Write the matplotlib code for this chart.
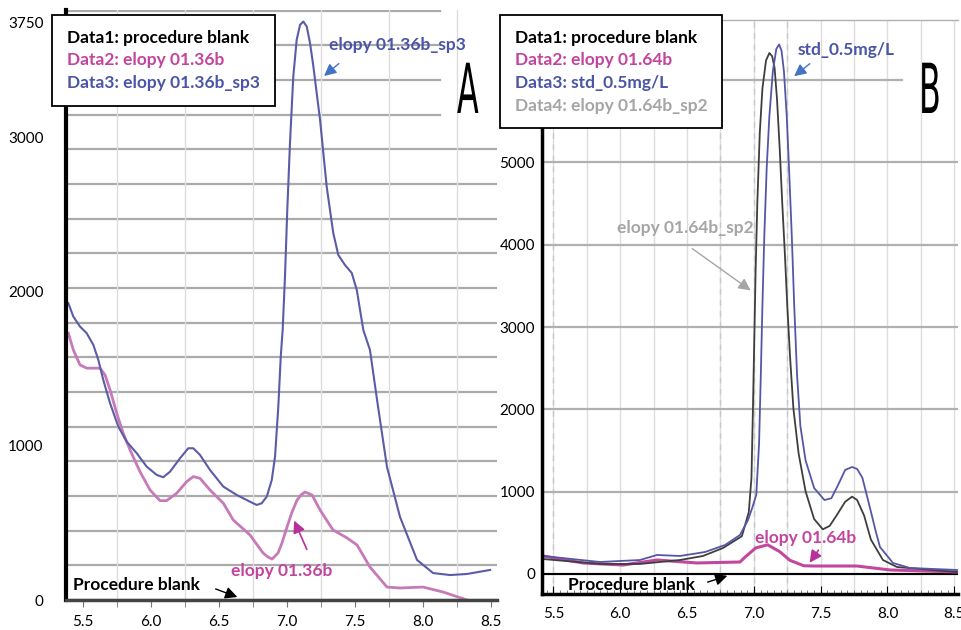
import numpy as np
import matplotlib
matplotlib.use("Agg")
import matplotlib.pyplot as plt
from matplotlib.lines import Line2D
from matplotlib.ticker import MultipleLocator, FixedLocator
from matplotlib.textpath import TextPath
from matplotlib.patches import PathPatch
from matplotlib.font_manager import FontProperties
from matplotlib.transforms import Affine2D

plt.rcParams['font.family'] = ['Lato', 'DejaVu Sans']

# ---------------- panel A data (retention time, intensity) ----------------
a_sp3_x = [5.392, 5.429, 5.478, 5.527, 5.576, 5.613, 5.649, 5.699, 5.760, 5.821,
           5.895, 5.968, 6.042, 6.090, 6.140, 6.213, 6.274, 6.311, 6.360, 6.434,
           6.532, 6.630, 6.728, 6.777, 6.814, 6.851, 6.888, 6.912, 6.936, 6.954,
           6.968, 6.985, 7.002, 7.022, 7.046, 7.071, 7.096, 7.120, 7.145, 7.169,
           7.194, 7.218, 7.243, 7.267, 7.292, 7.316, 7.340, 7.377, 7.426, 7.476,
           7.513, 7.537, 7.561, 7.610, 7.662, 7.735, 7.831, 7.956, 8.074, 8.199,
           8.324, 8.493]
a_sp3_y = [1927, 1840, 1775, 1732, 1656, 1558, 1429, 1277, 1125, 1028,
           953, 866, 812, 797, 833, 920, 985, 985, 942, 844,
           736, 682, 638, 617, 628, 671, 779, 931, 1255, 1580,
           1753, 2097, 2532, 2968, 3396, 3636, 3734, 3755, 3723, 3617,
           3463, 3292, 3117, 2903, 2682, 2532, 2383, 2240, 2175, 2123,
           2013, 1883, 1753, 1623, 1299, 864, 539, 260, 175, 162,
           169, 195]

a_samp_x = [5.392, 5.429, 5.478, 5.527, 5.576, 5.625, 5.662, 5.699, 5.748, 5.796,
            5.846, 5.919, 5.993, 6.066, 6.115, 6.189, 6.262, 6.311, 6.360, 6.434,
            6.532, 6.605, 6.728, 6.824, 6.860, 6.890, 6.934, 6.963, 7.000, 7.037,
            7.074, 7.103, 7.132, 7.184, 7.243, 7.338, 7.441, 7.515, 7.610, 7.735,
            7.831, 8.000, 8.147, 8.324]
a_samp_y = [1732, 1623, 1526, 1505, 1505, 1505, 1461, 1364, 1212, 1082,
            974, 833, 714, 645, 645, 693, 768, 801, 790, 714,
            628, 519, 422, 305, 279, 266, 305, 370, 474, 571,
            649, 682, 701, 682, 584, 455, 403, 357, 214, 84,
            78, 84, 52, 0]

a_blank_x = [5.38, 8.55]
a_blank_y = [0, 0]

a_yticks = [0, 1000, 2000, 3000, 3750]
a_xticks = [5.5, 6.0, 6.5, 7.0, 7.5, 8.0, 8.5]

# ---------------- panel B data ----------------
b_std_x = [5.421, 5.848, 6.147, 6.275, 6.447, 6.634, 6.784, 6.896, 6.956, 6.987,
           7.018, 7.039, 7.052, 7.064, 7.078, 7.096, 7.116, 7.142, 7.168, 7.189,
           7.207, 7.225, 7.246, 7.263, 7.284, 7.302, 7.323, 7.348, 7.387, 7.451,
           7.528, 7.580, 7.632, 7.683, 7.735, 7.773, 7.812, 7.864, 7.915, 7.944,
           8.041, 8.168, 8.520]
b_std_y = [219, 146, 170, 231, 219, 267, 352, 474, 656, 800,
           961, 1589, 2425, 3262, 4100, 4937, 5564, 6108, 6380, 6434,
           6358, 6108, 5564, 4937, 4100, 3262, 2425, 1798, 1380, 1045,
           899, 920, 1087, 1264, 1300, 1276, 1170, 836, 501, 328,
           134, 73, 49]

b_sp2_x = [5.421, 5.848, 6.147, 6.447, 6.619, 6.769, 6.910, 6.962, 6.982, 6.993,
           7.003, 7.013, 7.026, 7.044, 7.064, 7.091, 7.116, 7.137, 7.155, 7.173,
           7.194, 7.212, 7.232, 7.250, 7.271, 7.296, 7.335, 7.387, 7.451, 7.516,
           7.567, 7.619, 7.683, 7.735, 7.773, 7.825, 7.876, 7.966, 8.071, 8.520]
b_sp2_y = [182, 122, 122, 170, 219, 316, 459, 752, 1170, 2007,
           2844, 3682, 4518, 5355, 5899, 6240, 6330, 6290, 6150, 5773,
           5146, 4518, 3891, 3262, 2635, 2007, 1463, 1004, 668, 543,
           584, 711, 877, 940, 899, 711, 418, 170, 85, 24]

b_samp_x = [5.421, 5.721, 6.020, 6.275, 6.574, 6.896, 6.936, 7.013, 7.103, 7.194,
            7.270, 7.374, 7.450, 7.771, 8.019, 8.520]
b_samp_y = [219, 134, 109, 170, 134, 146, 208, 316, 355, 271,
            166, 100, 97, 97, 49, 24]

b_blank_x = [5.41, 8.53]
b_blank_y = [0, 0]

b_yticks = [0, 1000, 2000, 3000, 4000, 5000, 6000]
b_yticklabels = ['0', '1000', '2000', '3000', '4000', '5000', '']
b_xticks = [5.5, 6.0, 6.5, 7.0, 7.5, 8.0, 8.5]

# colours
MAG = '#c2449e'
BLU = '#4b55a8'
GRY = '#a5a5a5'
ARB = '#4472c4'

W, H = 962, 630
fig = plt.figure(figsize=(W / 100, H / 100), dpi=100)


def px_axes(l, r, t, b):
    return fig.add_axes([l / W, 1 - b / H, (r - l) / W, (b - t) / H])


def panel_letter(ch, left, bottom):
    # tall narrow panel letter, drawn in pixel space
    tp = TextPath((0, 0), ch, size=69, prop=FontProperties(family='DejaVu Sans'))
    tr = Affine2D().scale(0.46, 1).translate(left, H - bottom)
    fig.add_artist(PathPatch(tp, transform=tr, facecolor='black', lw=0))


bold = dict(fontweight='bold', fontsize=12.5)
leg_kw = dict(loc='upper left', bbox_transform=fig.transFigure, handlelength=0,
              handletextpad=0, prop=dict(weight='bold', size=12.5), frameon=True,
              fancybox=False, framealpha=1, edgecolor='black', borderpad=0.85,
              labelspacing=0.38, borderaxespad=0)

# ===================== panel A =====================
axA = px_axes(66, 497, 10, 600)
axA.set_xlim(5.375, 8.544)
axA.set_ylim(0, 3830)

axA.xaxis.set_major_locator(FixedLocator(a_xticks))
axA.xaxis.set_minor_locator(MultipleLocator(0.25))
axA.yaxis.set_major_locator(FixedLocator(a_yticks))
axA.grid(which='minor', axis='x', color='#dddddd', lw=1)
# horizontal rules; the top three stop short of the panel letter
for yv in np.arange(225, 3830, 225):
    axA.axhline(yv, color='#aaaaaa', lw=1.6, zorder=0.5, xmax=0.868 if yv > 3100 else 1)
axA.set_axisbelow(True)
axA.tick_params(axis='y', which='both', length=0, pad=16, labelsize=11)
axA.tick_params(axis='x', which='minor', length=5, color='#777777', direction='out')
axA.tick_params(axis='x', which='major', length=5, color='#777777', pad=6, labelsize=11)
for s in ['top', 'right']:
    axA.spines[s].set_visible(False)
axA.spines['left'].set_linewidth(3)
axA.spines['left'].set_color('black')
axA.spines['bottom'].set_linewidth(2.5)
axA.spines['bottom'].set_color('#444444')

axA.plot(a_blank_x, a_blank_y, color='black', lw=1.5)
axA.plot(a_samp_x, a_samp_y, color='#c77ab8', lw=2)
axA.plot(a_sp3_x, a_sp3_y, color='#5a5ca6', lw=1.5)

axA.text(7.809, 3604, 'elopy 01.36b_sp3', color=BLU, ha='center', va='center', **bold)
axA.annotate('', xy=(7.257, 3390), xytext=(7.397, 3494),
             arrowprops=dict(arrowstyle='-|>', color=ARB, lw=1, mutation_scale=18))
axA.text(6.963, 188, 'elopy 01.36b', color=MAG, ha='center', va='center', **bold)
axA.annotate('', xy=(7.044, 532), xytext=(7.154, 312),
             arrowprops=dict(arrowstyle='-|>', color='#b8309a', lw=1.2, mutation_scale=18))
axA.text(5.426, 97, 'Procedure blank', color='black', ha='left', va='center', **bold)
axA.annotate('', xy=(6.654, 13), xytext=(6.456, 78),
             arrowprops=dict(arrowstyle='-|>', color='black', lw=1, mutation_scale=18))
panel_letter('A', 457, 113)

legA = axA.legend([Line2D([], [], lw=0) for _ in range(3)],
                  ['Data1: procedure blank', 'Data2: elopy 01.36b', 'Data3: elopy 01.36b_sp3'],
                  bbox_to_anchor=(52 / W, 1 - 15 / H), labelcolor=['black', MAG, BLU], **leg_kw)
legA.get_frame().set_linewidth(1.3)

# ===================== panel B =====================
axB = px_axes(542, 958, 20, 594)
axB.set_xlim(5.414, 8.528)
axB.set_ylim(-243, 6731)

axB.xaxis.set_major_locator(FixedLocator(b_xticks))
axB.xaxis.set_minor_locator(MultipleLocator(0.05))
axB.set_yticks(b_yticks, b_yticklabels)
for xv in np.arange(5.5, 8.6, 0.25):
    axB.axvline(xv, color='#dddddd', lw=1, zorder=0)
for xv in [5.5, 6.75, 7.0, 7.25]:
    axB.axvline(xv, color='#c8c8c8', lw=1, ls=(0, (4, 4)), zorder=0.5)
for yv in b_yticks:
    axB.axhline(yv, color='#b0b0b0', lw=1.6, zorder=0.5, xmax=0.865 if yv >= 6000 else 1)
axB.set_axisbelow(True)
axB.tick_params(axis='y', length=0, pad=5, labelsize=11)
axB.tick_params(axis='x', which='major', length=6, direction='in', pad=9, labelsize=11)
axB.tick_params(axis='x', which='minor', length=3, direction='in', color='#666666')
axB.spines['right'].set_visible(False)
axB.spines['top'].set_color('#b0b0b0')
axB.spines['top'].set_linewidth(1)
axB.spines['left'].set_linewidth(2.5)
axB.spines['bottom'].set_linewidth(2.5)

axB.plot(b_blank_x, b_blank_y, color='black', lw=1.5)
axB.plot(b_samp_x, b_samp_y, color='#c2479f', lw=2.2)
axB.plot(b_sp2_x, b_sp2_y, color='#3e3e3e', lw=1.3)
axB.plot(b_std_x, b_std_y, color='#5557a6', lw=1.3)

axB.text(7.689, 6367, 'std_0.5mg/L', color=BLU, ha='center', va='center', **bold)
axB.annotate('', xy=(7.285, 6027), xytext=(7.435, 6221),
             arrowprops=dict(arrowstyle='-|>', color=ARB, lw=1, mutation_scale=18))
axB.text(6.484, 4204, 'elopy 01.64b_sp2', color=GRY, ha='center', va='center', **bold)
axB.annotate('', xy=(6.993, 3426), xytext=(6.522, 3973),
             arrowprops=dict(arrowstyle='-|>', color=GRY, lw=1, mutation_scale=18))
axB.text(7.390, 437, 'elopy 01.64b', color=MAG, ha='center', va='center', **bold)
axB.annotate('', xy=(7.405, 109), xytext=(7.495, 316),
             arrowprops=dict(arrowstyle='-|>', color='#b8309a', lw=1.2, mutation_scale=18))
axB.text(5.609, -134, 'Procedure blank', color='black', ha='left', va='center', **bold)
axB.annotate('', xy=(6.821, -12), xytext=(6.634, -109),
             arrowprops=dict(arrowstyle='-|>', color='black', lw=1, mutation_scale=18))
panel_letter('B', 919, 113)

legB = axB.legend([Line2D([], [], lw=0) for _ in range(4)],
                  ['Data1: procedure blank', 'Data2: elopy 01.64b', 'Data3: std_0.5mg/L',
                   'Data4: elopy 01.64b_sp2'],
                  bbox_to_anchor=(500 / W, 1 - 15 / H), labelcolor=['black', MAG, BLU, GRY],
                  **leg_kw)
legB.get_frame().set_linewidth(1.3)

fig.savefig('out.png', dpi=100)
